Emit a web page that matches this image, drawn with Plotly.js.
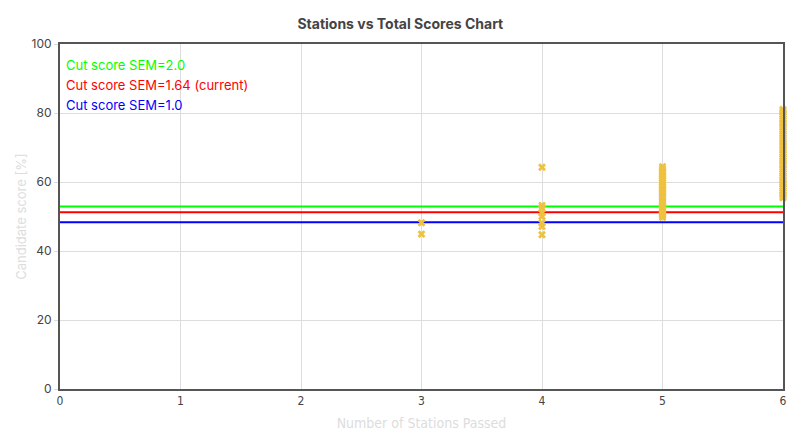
<!DOCTYPE html>
<html>
<head>
<meta charset="utf-8">
<script src="https://cdn.plot.ly/plotly-3.0.1.min.js"></script>
<style>html,body{margin:0;padding:0;background:#fff;}#chart{width:812px;height:439px;}</style>
</head>
<body>
<div id="chart"></div>
<script>
// Cut score lines
const cutLabels = ["Cut score SEM=2.0", "Cut score SEM=1.64 (current)", "Cut score SEM=1.0"];
const cutValues = [52.9, 51.2, 48.3];
const cutColors = ["#00ff00", "#ff0000", "#0000ff"];
const lineX = [0, 6];

// Candidate scores by number of stations passed
const stations3 = [48.2, 44.9];
const stations4 = [64.3, 53.2, 52.4, 51.0, 50.0, 48.1, 47.1, 44.7];
const stations5 = [64.4, 63.8, 63.1, 62.6, 62.0, 61.5, 61.0, 60.4, 59.9, 59.3, 58.8, 58.2, 57.7, 57.1, 56.6,
  56.0, 55.5, 55.0, 54.4, 53.9, 53.3, 52.8, 52.2, 51.7, 51.1, 50.6, 50.2, 49.8];
const stations6 = [81.0, 80.6, 80.1, 79.5, 79.0, 78.4, 77.9, 77.3, 76.8, 76.2, 75.7, 75.1, 74.6, 74.0, 73.5,
  72.9, 72.4, 71.8, 71.3, 70.7, 70.2, 69.6, 69.1, 68.5, 68.0, 67.4, 66.9, 66.3, 65.8, 65.2, 64.7,
  64.1, 63.6, 63.0, 62.5, 61.9, 61.4, 60.8, 60.3, 59.7, 59.2, 58.6, 58.1, 57.5, 57.0, 56.4, 55.9, 55.4];

const xTicks = [0, 1, 2, 3, 4, 5, 6];
const yTicks = [0, 20, 40, 60, 80, 100];

const xs = [], ys = [];
[[3, stations3], [4, stations4], [5, stations5], [6, stations6]].forEach(([s, arr]) => {
  arr.forEach(v => { xs.push(s); ys.push(v); });
});

const traces = cutValues.map((v, i) => ({
  x: lineX, y: [v, v], mode: 'lines', type: 'scatter',
  line: {color: cutColors[i], width: 2}, name: cutLabels[i], showlegend: false, hoverinfo: 'skip'
}));
traces.push({
  x: xs, y: ys, mode: 'markers', type: 'scatter', name: 'Candidates', showlegend: false,
  cliponaxis: false,
  marker: {symbol: 'x', size: 7, color: '#eec23f', line: {width: 0}}
});

const annY = [0.939, 0.881, 0.823];
const annotations = cutLabels.map((t, i) => ({
  text: t, xref: 'paper', yref: 'paper', x: 0, y: annY[i], xanchor: 'left', yanchor: 'middle',
  xshift: 4, showarrow: false, font: {family: 'Inter, "Open Sans", sans-serif', size: 13, color: cutColors[i]}
}));

const layout = {
  width: 812, height: 439,
  margin: {l: 60, r: 29, t: 44, b: 50},
  paper_bgcolor: '#ffffff', plot_bgcolor: '#ffffff',
  font: {family: 'Inter, "Open Sans", sans-serif', size: 12, color: '#444'},
  title: {text: '<b>Stations vs Total Scores Chart</b>', x: 0.493, xref: 'container', y: 0.945, yanchor: 'middle',
    font: {family: 'Inter, "Open Sans", sans-serif', size: 14, color: '#444'}},
  xaxis: {
    range: [0, 6], tickvals: xTicks, ticktext: xTicks.map(String),
    showgrid: true, gridcolor: '#dddddd', gridwidth: 1, zeroline: false,
    showline: true, linecolor: '#555', linewidth: 2, mirror: true,
    ticks: '', tickfont: {family: '"Liberation Sans Narrow", "DejaVu Sans Condensed", Roboto, sans-serif', size: 12, color: '#444'},
    title: {text: 'Number of Stations Passed', standoff: 11,
      font: {family: '"Liberation Sans Narrow", "DejaVu Sans Condensed", Roboto, sans-serif', size: 14, color: '#dddddd'}}
  },
  yaxis: {
    range: [0, 100], tickvals: yTicks, ticktext: yTicks.map(String),
    showgrid: true, gridcolor: '#dddddd', gridwidth: 1, zeroline: false,
    showline: true, linecolor: '#555', linewidth: 2, mirror: true,
    ticks: 'outside', ticklen: 4, tickcolor: '#dddddd',
    tickfont: {family: 'Inter, "Open Sans", sans-serif', size: 12, color: '#444'},
    title: {text: 'Candidate score [%]', standoff: 2,
      font: {family: 'Inter, "Open Sans", sans-serif', size: 13, color: '#dddddd'}}
  },
  annotations: annotations,
  showlegend: false
};

Plotly.newPlot('chart', traces, layout, {displayModeBar: false, staticPlot: true});
</script>
</body>
</html>
